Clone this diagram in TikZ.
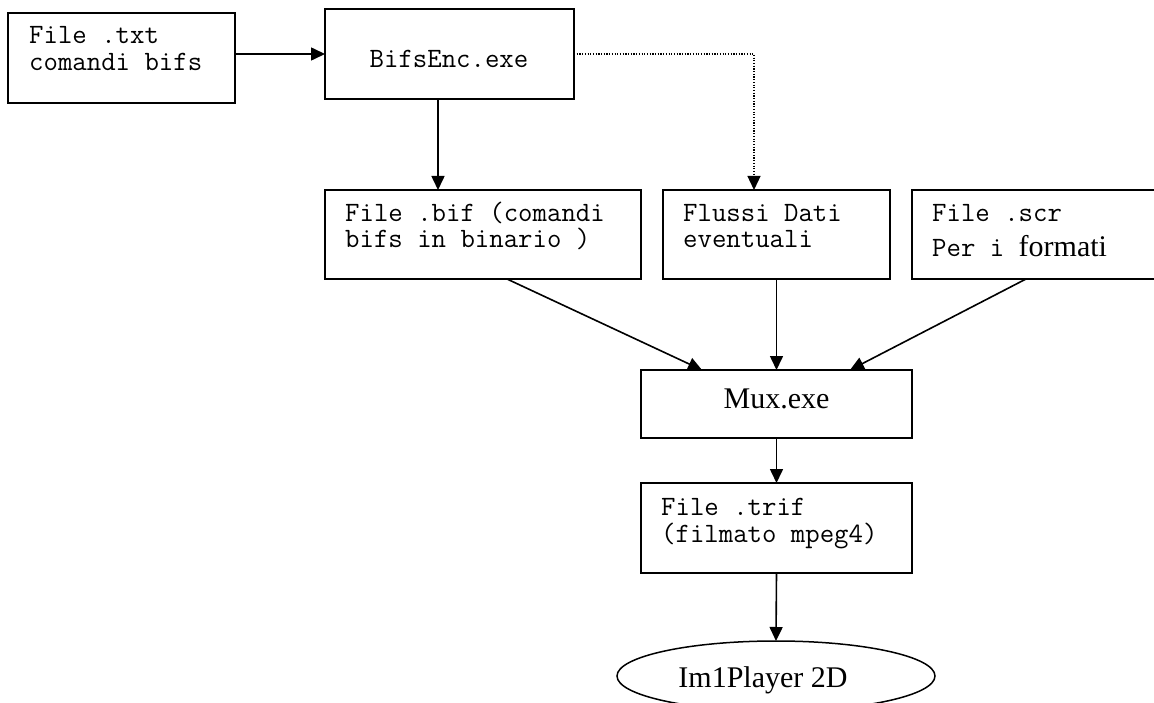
\documentclass[tikz,border=0pt]{standalone}
\usepackage{fontspec}
\setmainfont{Liberation Serif}
\usetikzlibrary{arrows.meta,shapes.geometric,calc}
\tikzset{
  box/.style={draw, line width=1.5pt, inner sep=0pt, outer sep=0pt},
  mono/.style={font=\ttfamily\fontsize{28}{30}\selectfont, inner sep=0pt, anchor=base west},
  serif/.style={font=\rmfamily\fontsize{30}{33}\selectfont, inner sep=0pt, anchor=base},
  arr/.style={-{Triangle[length=14pt,width=13pt]}, line width=1.6pt},
  dotarr/.style={-{Triangle[length=14pt,width=13pt]}, line width=1.3pt, dash pattern=on 1.2pt off 1.5pt}
}
\begin{document}
\begin{tikzpicture}[x=1pt,y=-1pt]
\useasboundingbox[fill=white] (0,0) rectangle (1154,703);
% boxes
\node[box, minimum width=227pt, minimum height=90pt] (A) at (121.5,58) {};
\node[box, minimum width=249pt, minimum height=90pt] (B) at (449.5,54) {};
\node[box, minimum width=316pt, minimum height=89pt] (C) at (483,234.5) {};
\node[box, minimum width=227pt, minimum height=89pt] (D) at (776.5,234.5) {};
\node[box, minimum width=250pt, minimum height=89pt] (E) at (1037,234.5) {};
\node[box, minimum width=271pt, minimum height=68pt] (M) at (776.5,404) {};
\node[box, minimum width=271pt, minimum height=90pt] (T) at (776.5,528) {};
\node[box, ellipse, minimum width=318pt, minimum height=70pt] (P) at (776,676) {};
% texts
\node[mono] (ta1) at (29,44) {File .txt};
\node[mono] (ta2) at (29,71) {comandi bifs};
\node[mono, anchor=base] (tb) at (449,68) {BifsEnc.exe};
\node[mono] (tc1) at (345,222) {File .bif (comandi};
\node[mono] (tc2) at (345,248) {bifs in binario )};
\node[mono] (td1) at (683,222) {Flussi Dati};
\node[mono] (td2) at (683,248) {eventuali};
\node[mono] (te1) at (932,222) {File .scr};
\node[mono] (te2) at (932,257) {Per i {\rmfamily\fontsize{30}{33}\selectfont formati}};
\node[serif] (tm) at (776.5,408) {Mux.exe};
\node[mono] (tt1) at (661,515) {File .trif};
\node[mono] (tt2) at (661,542) {(filmato mpeg4)};
\node[serif] (tp) at (763,687) {Im1Player 2D};
% connectors
\draw[arr] (A.east |- B.west) -- (B.west);
\draw[arr] ([xshift=-11.5pt]B.south) -- ([xshift=-11.5pt]B.south |- C.north);
\draw[dotarr] (B.east) -| ([xshift=-22.5pt]D.north);
\draw[arr] ([xshift=24pt]C.south) -- ([xshift=-74.5pt]M.north);
\draw[arr] (D.south) -- (M.north);
\draw[arr] ([xshift=-11pt]E.south) -- ([xshift=73.5pt]M.north);
\draw[arr] (M.south) -- (T.north);
\draw[arr] (T.south) -- (P.north);
\end{tikzpicture}
\end{document}
